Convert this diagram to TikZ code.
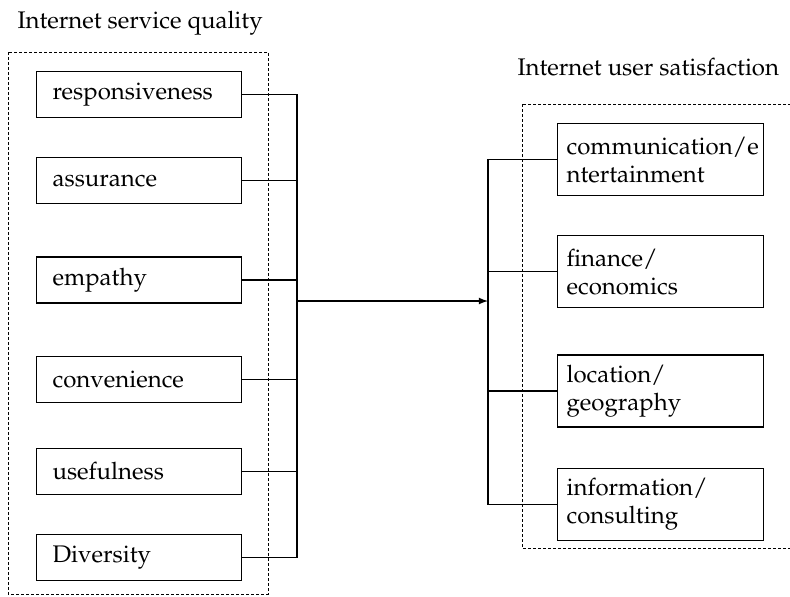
\documentclass[tikz,border=0pt]{standalone}
\usepackage[T1]{fontenc}
\usepackage{mathpazo}
\usepackage{tikz}
\usetikzlibrary{arrows,positioning}
\hyphenpenalty=10000

\begin{document}
\begin{tikzpicture}[>=latex, x=0.5pt, y=-0.5pt, line width=0.6pt]
	\tikzstyle{all nodes}=[shape=rectangle]
	\tikzstyle{sbox}=[draw, text width=86.5pt, inner xsep=8pt, inner ysep=0pt,
		minimum height=23pt, align=left, font=\fontsize{12}{14}\selectfont]
	\tikzstyle{ubox}=[draw, text width=94pt, inner xsep=4.5pt, inner ysep=0pt,
		minimum height=36pt, align=left, font=\fontsize{12}{14}\selectfont]
	\tikzstyle{group}=[line width=0.5pt, dash pattern=on 1.5pt off 1pt]
	\tikzstyle{title}=[inner sep=0pt, font=\fontsize{12}{14}\selectfont]
	\useasboundingbox (0,0) rectangle (790,596);
	% % Groups
	\draw[group] (8,52) rectangle (268,594);
	\draw[group] (522,104) rectangle (800,548);
	\node[title, anchor=base west] (sqtitle) at (17,28) {Internet service quality};
	\node[title, anchor=base west] (ustitle) at (517,75) {Internet user satisfaction};
	% % Service quality
	\node[sbox, anchor=north west] (resp) at (36,71) {responsiveness};
	\node[sbox, below=19.5pt of resp] (assur) {assurance};
	\node[sbox, below=26pt of assur] (empat) {empathy};
	\node[sbox, below=26pt of empat] (conv) {convenience};
	\node[sbox, below=22.5pt of conv] (useful) {usefulness};
	\node[sbox, below=19.5pt of useful] (divers) {Diversity};
	% % User satisfaction
	\node[ubox, anchor=north west] (comm) at (557,123) {communication/e\\ntertainment};
	\node[ubox, below=19.5pt of comm] (finan) {finance/\\economics};
	\node[ubox, below=23pt of finan] (locat) {location/\\geography};
	\node[ubox, below=20pt of locat] (inform) {information/\\consulting};
	% % Connectors
	\coordinate (joinL) at (297,301);
	\coordinate (joinR) at (488,301);
	\foreach \n in {resp,assur,empat,conv,useful,divers}
		\draw (\n.east) -| (joinL);
	\draw [->] (joinL) -- (joinR);
	\foreach \n in {comm,finan,locat,inform}
		\draw (joinR) |- (\n.west);
\end{tikzpicture}
\end{document}
